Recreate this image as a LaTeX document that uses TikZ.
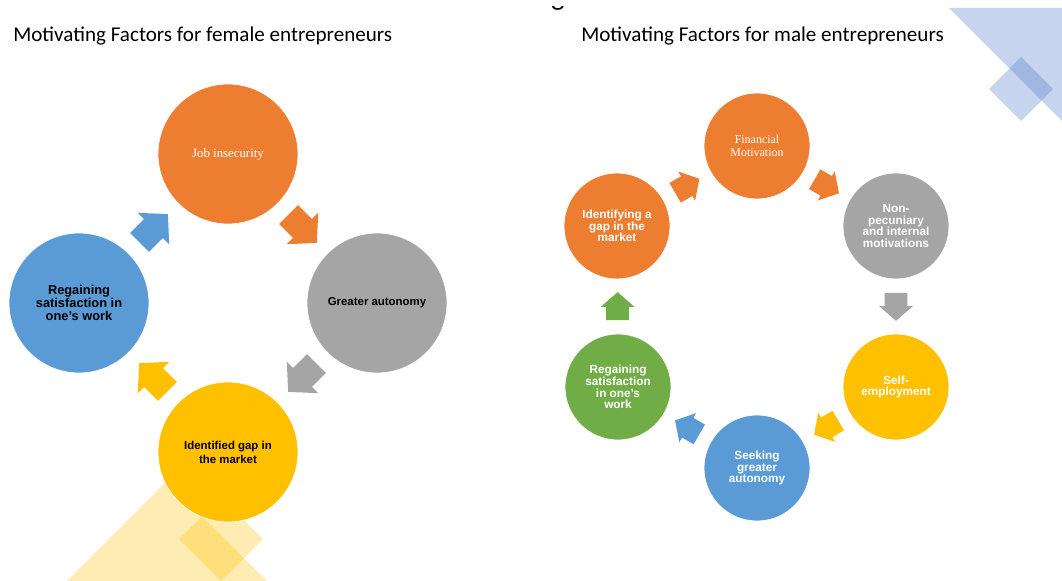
\documentclass[tikz,border=0pt]{standalone}
\usepackage{fontspec}
\usetikzlibrary{calc,shapes.arrows}
\newfontfamily\calibrifont{Carlito}
\newfontfamily\arialfont{Liberation Sans}
\newfontfamily\timesfont{Liberation Serif}

\definecolor{offorange}{HTML}{ED7D31}
\definecolor{offgray}{HTML}{A5A5A5}
\definecolor{offblue}{HTML}{5B9BD5}
\definecolor{offgold}{HTML}{FFC000}
\definecolor{offgreen}{HTML}{70AD47}
\definecolor{decoblue}{HTML}{4472C4}

\tikzset{
	title/.style={font=\calibrifont\fontsize{12}{14}\selectfont, inner sep=0pt, anchor=base west},
	bigdisc/.style={circle, draw=white, line width=0.4pt, minimum size=2.8cm, inner sep=0pt, align=center},
	smalldisc/.style={circle, draw=white, line width=0.4pt, minimum size=2.12cm, inner sep=0pt, align=center},
	bigarrow/.style={single arrow, draw=none, anchor=tail, inner xsep=0pt, inner ysep=0.26cm, minimum height=0.8cm, minimum width=0.88cm, single arrow head extend=0.18cm, single arrow tip angle=95},
	smallarrow/.style={single arrow, draw=none, anchor=tail, inner xsep=0pt, inner ysep=0.22cm, minimum height=0.56cm, minimum width=0.66cm, single arrow head extend=0.11cm, single arrow tip angle=98},
	serifwhite/.style={text=white, font=\timesfont\fontsize{7.3}{8}\selectfont},
	bolddark/.style={text=black, font=\arialfont\bfseries\fontsize{7.3}{7.6}\selectfont},
	boldsmall/.style={text=black, font=\arialfont\bfseries\fontsize{6.5}{7.9}\selectfont},
	boldwhite/.style={text=white, font=\arialfont\bfseries\fontsize{6.7}{6.6}\selectfont},
}

\begin{document}
\begin{tikzpicture}[x=0.02cm, y=-0.02cm]
			%%%%% START %%%%%
			\useasboundingbox (0, 0) rectangle (1062, 581);
			
			% corner decorations
			\fill[decoblue, opacity=0.3] (949, 8) -- (1062, 8) -- (1062, 121) -- cycle;
			\fill[decoblue, opacity=0.3] (1021, 57) -- (1053, 89) -- (1021, 121) -- (989, 89) -- cycle;
			\fill[offgold, opacity=0.3] (67, 581) -- (167, 481) -- (267, 581) -- cycle;
			\fill[offgold, opacity=0.3] (221, 497) -- (263, 539) -- (221, 581) -- (179, 539) -- cycle;
			
			% cut off heading
			\begin{scope}
				\clip (530, 6.5) rectangle (590, 14);
				\node[font=\calibrifont\fontsize{16}{18}\selectfont, inner sep=0pt, anchor=base] (cutg) at (558, 6) {g};
			\end{scope}
			
			\node[title] (femtitle) at (13, 42) {Motivating Factors for female entrepreneurs};
			\node[title] (maltitle) at (581, 42) {Motivating Factors for male entrepreneurs};
			
			% female cycle
			\node[bigdisc, fill=offorange, serifwhite] (job) at (228, 154) {Job insecurity};
			\node[bigdisc, fill=offgray, boldsmall] (autonomy) at (377, 303) {Greater autonomy};
			\node[bigdisc, fill=offgold, boldsmall] (gapfound) at (228, 452) {Identified gap in\\the market};
			\node[bigdisc, fill=offblue, bolddark] (regain) at (79, 303) {Regaining\\satisfaction in\\one’s work};
			
			\node[bigarrow, fill=offorange, rotate=-45] (fa1) at ($(job)!0.405!(autonomy)$) {};
			\node[bigarrow, fill=offgray, rotate=-135] (fa2) at ($(autonomy)!0.405!(gapfound)$) {};
			\node[bigarrow, fill=offgold, rotate=135] (fa3) at ($(gapfound)!0.405!(regain)$) {};
			\node[bigarrow, fill=offblue, rotate=45] (fa4) at ($(regain)!0.405!(job)$) {};
			
			% male cycle
			\node[smalldisc, fill=offorange, boldwhite] (ident) at (617, 226) {Identifying a\\gap in the\\market};
			\node[smalldisc, fill=offorange, serifwhite, font=\timesfont\fontsize{6.8}{7.2}\selectfont] (finance) at (757, 146) {Financial\\Motivation};
			\node[smalldisc, fill=offgray, boldwhite] (nonpec) at (896, 226) {Non-\\pecuniary\\and internal\\motivations};
			\node[smalldisc, fill=offgold, boldwhite] (selfemp) at (896, 387) {Self-\\employment};
			\node[smalldisc, fill=offblue, boldwhite] (seeking) at (757, 468) {Seeking\\greater\\autonomy};
			\node[smalldisc, fill=offgreen, boldwhite] (satisf) at (618, 387) {Regaining\\satisfaction\\in one’s\\work};
			
			\node[smallarrow, fill=offorange, rotate=30] (ma1) at ($(ident)!0.413!(finance)$) {};
			\node[smallarrow, fill=offorange, rotate=-30] (ma2) at ($(finance)!0.413!(nonpec)$) {};
			\node[smallarrow, fill=offgray, rotate=-90] (ma3) at ($(nonpec)!0.413!(selfemp)$) {};
			\node[smallarrow, fill=offgold, rotate=-150] (ma4) at ($(selfemp)!0.413!(seeking)$) {};
			\node[smallarrow, fill=offblue, rotate=150] (ma5) at ($(seeking)!0.413!(satisf)$) {};
			\node[smallarrow, fill=offgreen, rotate=90] (ma6) at ($(satisf)!0.413!(ident)$) {};
			
			%%%%% END %%%%%
\end{tikzpicture}
\end{document}
